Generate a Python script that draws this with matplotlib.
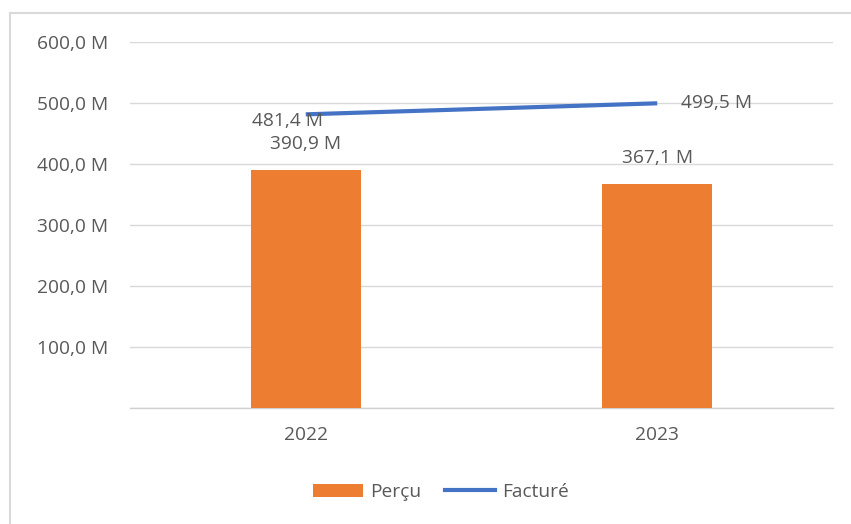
import matplotlib
matplotlib.use("Agg")
import matplotlib.pyplot as plt
from matplotlib.patches import Patch
from matplotlib.lines import Line2D

categories = ["2022", "2023"]
percu = [390.9, 367.1]
facture = [481.4, 499.5]
yticks = [0, 100, 200, 300, 400, 500, 600]
ytick_labels = ["", "100,0 M", "200,0 M", "300,0 M", "400,0 M", "500,0 M", "600,0 M"]

W, H = 851, 524
plt.rcParams['font.family'] = ['Open Sans', 'DejaVu Sans']
txt = '#595959'
orange = '#ED7D31'
blue = '#4472C4'
fs = 13.8

fig = plt.figure(figsize=(W / 100, H / 100), dpi=100)
ax = fig.add_axes([130 / W, 1 - 408 / H, (833 - 130) / W, (408 - 42) / H])

x = list(range(len(categories)))
ax.bar(x, percu, width=0.313, color=orange, zorder=3)
ax.plot(x, facture, color=blue, lw=3, solid_capstyle='butt', zorder=4)

ax.set_xlim(-0.5, 1.5)
ax.set_ylim(0, 600)
ax.set_yticks(yticks)
ax.set_yticklabels(ytick_labels)
ax.set_xticks(x)
ax.set_xticklabels(categories)
ax.tick_params(axis='both', length=0, labelsize=fs, colors=txt)
ax.tick_params(axis='y', pad=16)
ax.tick_params(axis='x', pad=13)
ax.yaxis.grid(True, color='#D9D9D9', lw=1, zorder=0)
for s in ['top', 'right', 'left']:
    ax.spines[s].set_visible(False)
ax.spines['bottom'].set_color('#D0D0D0')
ax.spines['bottom'].set_linewidth(1)

def fmt(v):
    return f"{v:.1f}".replace('.', ',') + " M"

# bar labels
for xi, v in zip(x, percu):
    ax.annotate(fmt(v), (xi, v), xytext=(0, 12), textcoords='offset points',
                ha='center', va='bottom', fontsize=fs, color=txt, zorder=5)
# line labels
ax.annotate(fmt(facture[0]), (x[0], facture[0]), xytext=(-13, -5), textcoords='offset points',
            ha='center', va='center', fontsize=fs, color=txt, zorder=5)
ax.annotate(fmt(facture[1]), (x[1], facture[1]), xytext=(17, 0), textcoords='offset points',
            ha='left', va='center', fontsize=fs, color=txt, zorder=5)

handles = [Patch(facecolor=orange, edgecolor='none'),
           Line2D([0], [0], color=blue, lw=3)]
leg = fig.legend(handles, ["Perçu", "Facturé"], loc='center', bbox_to_anchor=(441 / W, 1 - 492 / H),
                 ncol=2, frameon=False, fontsize=fs, handlelength=2.6, handleheight=0.65,
                 handletextpad=0.4, columnspacing=1.2)
for t in leg.get_texts():
    t.set_color(txt)

# outer chart border (top and left edges visible)
fig.add_artist(Line2D([9.5 / W, 1.0], [1 - 13 / H, 1 - 13 / H], transform=fig.transFigure,
                      color='#D9D9D9', lw=1.5))
fig.add_artist(Line2D([9.5 / W, 9.5 / W], [0.0, 1 - 13 / H], transform=fig.transFigure,
                      color='#D9D9D9', lw=1.5))

fig.savefig("out.png", dpi=100)
